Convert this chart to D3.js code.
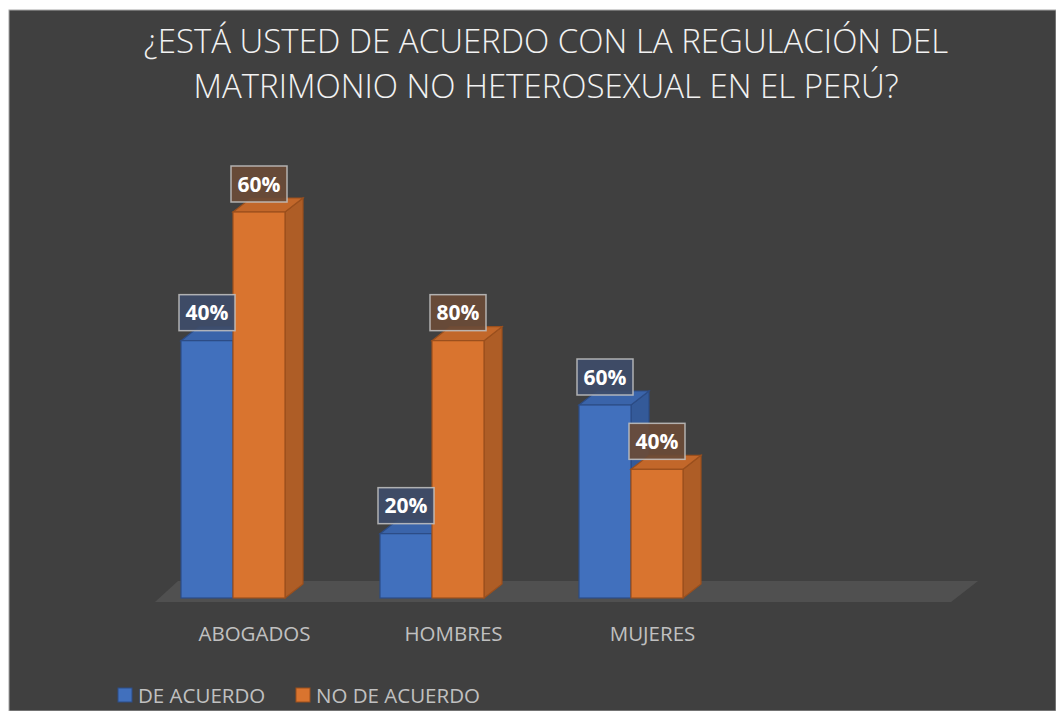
<!DOCTYPE html>
<html>
<head>
<meta charset="utf-8">
<script src="https://cdn.jsdelivr.net/npm/d3@7"></script>
<style>
  html, body { margin: 0; padding: 0; background: #fff; }
  svg { display: block; }
</style>
</head>
<body>
<div id="chart"></div>
<script>
// data (bar heights are counts, labels are percentages)
const categories = ["ABOGADOS", "HOMBRES", "MUJERES", ""];
const seriesNames = ["DE ACUERDO", "NO DE ACUERDO"];
const deAcuerdo = [4, 1, 3];
const noDeAcuerdo = [6, 4, 2];
const labelsDeAcuerdo = ["40%", "20%", "60%"];
const labelsNoDeAcuerdo = ["60%", "80%", "40%"];
const titleLines = [
  "¿ESTÁ USTED DE ACUERDO CON LA REGULACIÓN DEL",
  "MATRIMONIO NO HETEROSEXUAL EN EL PERÚ?"
];

const width = 1056;
const height = 711;
const font = "'Open Sans', 'Noto Sans', sans-serif";

const colors = {
  "DE ACUERDO": { front: "#4170bd", side: "#345a99", top: "#3a64aa", stroke: "#2c4c85", label: "#3e4c69" },
  "NO DE ACUERDO": { front: "#d9742f", side: "#ae5d26", top: "#c2672a", stroke: "#9a4f1d", label: "#6a4b37" }
};

const svg = d3.select("#chart")
  .append("svg")
  .attr("width", width)
  .attr("height", height);

// chart area with the thin white frame on the left/top
svg.append("rect")
  .attr("x", 9).attr("y", 10)
  .attr("width", width - 9).attr("height", height - 10)
  .attr("fill", "#404040")
  .attr("stroke", "#a6a6a6")
  .attr("stroke-width", 1);

// title
svg.append("g")
  .selectAll("text")
  .data(titleLines)
  .join("text")
  .attr("x", 546)
  .attr("y", (d, i) => 53 + i * 45)
  .attr("text-anchor", "middle")
  .attr("fill", "#f2f2f2")
  .style("font-family", font)
  .style("font-weight", 300)
  .style("font-size", "33px")
  .text(d => d);

const x = d3.scaleBand()
  .domain(categories)
  .range([155, 951]);

const xs = d3.scaleBand()
  .domain(seriesNames)
  .range([0, 104]);

const y = d3.scaleLinear()
  .domain([0, 6])
  .range([598, 212]);

const dx = 18, dy = 14;

// floor
const fx0 = x.range()[0], fx1 = x.range()[1];
svg.append("path")
  .attr("d", `M${fx0},${y(0) + 4} L${fx1},${y(0) + 4} L${fx1 + 27},${y(0) - 17} L${fx0 + 23},${y(0) - 17} Z`)
  .attr("fill", "#505050");

const rows = categories.slice(0, 3).map((c, i) => ({
  cat: c,
  values: [
    { s: seriesNames[0], v: deAcuerdo[i], label: labelsDeAcuerdo[i] },
    { s: seriesNames[1], v: noDeAcuerdo[i], label: labelsNoDeAcuerdo[i] }
  ]
}));

const bars = [];
rows.forEach(r => r.values.forEach(d => bars.push({ cat: r.cat, ...d })));

const barG = svg.append("g");
bars.forEach(d => {
  const x0 = x(d.cat) + 26 + xs(d.s);
  const x1 = x0 + xs.bandwidth();
  const y0 = y(0);
  const y1 = y(d.v);
  const c = colors[d.s];
  const g = barG.append("g");
  // side
  g.append("path")
    .attr("d", `M${x1},${y1} L${x1 + dx},${y1 - dy} L${x1 + dx},${y0 - dy} L${x1},${y0} Z`)
    .attr("fill", c.side).attr("stroke", c.stroke).attr("stroke-width", 1.2);
  // top
  g.append("path")
    .attr("d", `M${x0},${y1} L${x0 + dx},${y1 - dy} L${x1 + dx},${y1 - dy} L${x1},${y1} Z`)
    .attr("fill", c.top).attr("stroke", c.stroke).attr("stroke-width", 1.2);
  // front
  g.append("rect")
    .attr("x", x0).attr("y", y1)
    .attr("width", xs.bandwidth()).attr("height", y0 - y1)
    .attr("fill", c.front).attr("stroke", c.stroke).attr("stroke-width", 1.2);
});

// data labels
const lab = svg.append("g")
  .selectAll("g")
  .data(bars)
  .join("g")
  .attr("transform", d => `translate(${x(d.cat) + 26 + xs(d.s) + xs.bandwidth() / 2},${y(d.v) - 28})`);

lab.append("rect")
  .attr("x", -28).attr("y", -18)
  .attr("width", 56).attr("height", 36)
  .attr("fill", d => colors[d.s].label)
  .attr("fill-opacity", 0.92)
  .attr("stroke", "#c4c4c4")
  .attr("stroke-opacity", 0.85)
  .attr("stroke-width", 1.5);

lab.append("text")
  .attr("text-anchor", "middle")
  .attr("dy", "0.36em")
  .attr("fill", "#ffffff")
  .style("font-family", font)
  .style("font-weight", "bold")
  .style("font-size", "21px")
  .text(d => d.label);

// category labels
svg.append("g")
  .selectAll("text")
  .data(categories.filter(c => c))
  .join("text")
  .attr("x", d => x(d) + x.bandwidth() / 2)
  .attr("y", 641)
  .attr("text-anchor", "middle")
  .attr("fill", "#c0c0c0")
  .style("font-family", font)
  .style("font-size", "20.5px")
  .text(d => d);

// legend
const legX = [118, 296];
const leg = svg.append("g")
  .selectAll("g")
  .data(seriesNames)
  .join("g")
  .attr("transform", (d, i) => `translate(${legX[i]},688)`);

leg.append("rect")
  .attr("width", 14).attr("height", 14)
  .attr("fill", d => colors[d].front)
  .attr("stroke", d => colors[d].stroke);

leg.append("text")
  .attr("x", 20).attr("y", 15)
  .attr("fill", "#c0c0c0")
  .style("font-family", font)
  .style("font-size", "20.5px")
  .text(d => d);
</script>
</body>
</html>
